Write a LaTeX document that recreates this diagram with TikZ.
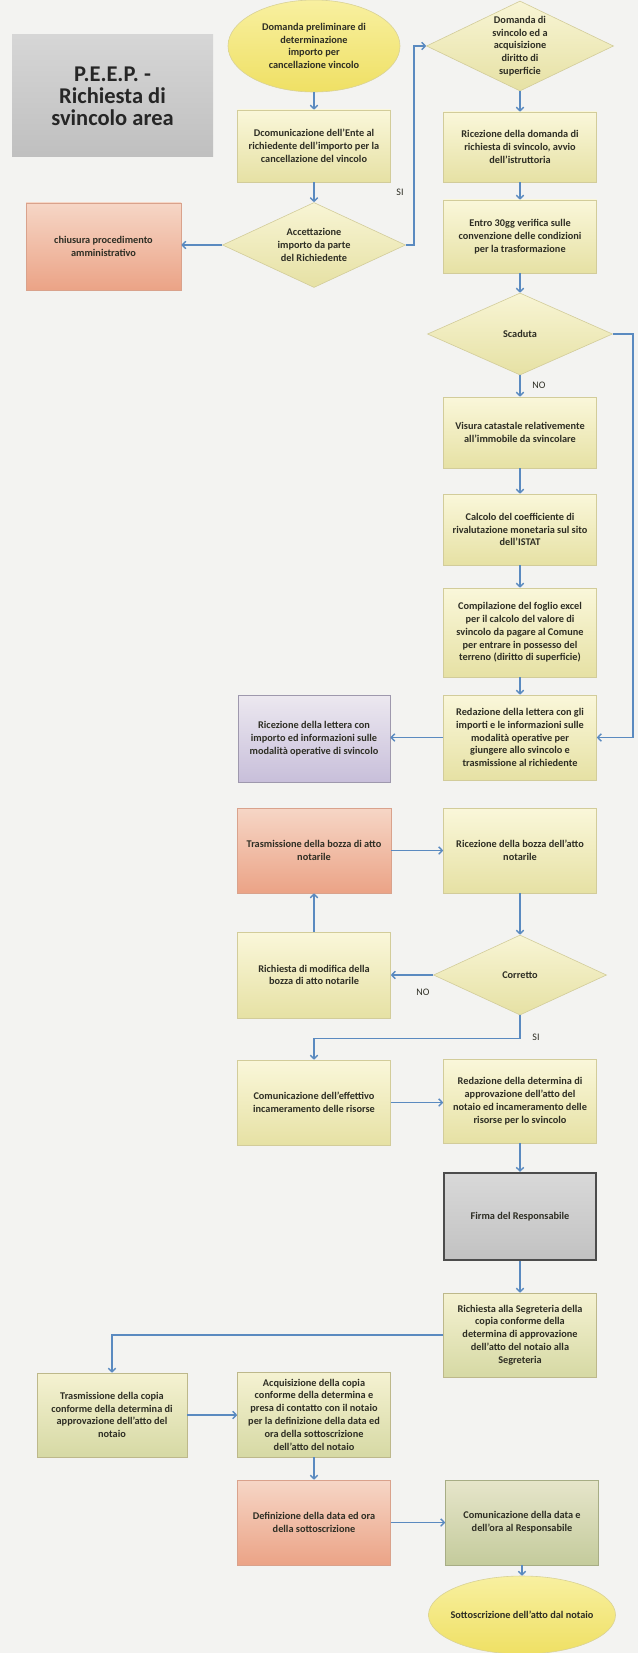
\documentclass[tikz,border=0pt]{standalone}
\usepackage{fontspec}
\setmainfont{Carlito}
\usepackage{tikz}
\usetikzlibrary{
  arrows.meta,
  calc,
  shapes.geometric
}
\definecolor{paper}{HTML}{F3F3F1}
\definecolor{conn}{HTML}{5A8AC0}
\definecolor{txtcol}{HTML}{2E2E24}
\definecolor{ylwtop}{HTML}{FAF7DA}
\definecolor{ylwbot}{HTML}{E6E1A4}
\definecolor{ylwline}{HTML}{D2CC9A}
\definecolor{grntop}{HTML}{F5F2D2}
\definecolor{grnbot}{HTML}{D6D9A4}
\definecolor{oliveTop}{HTML}{E6E5CA}
\definecolor{oliveBot}{HTML}{C4CB9C}
\definecolor{redtop}{HTML}{F6D6C6}
\definecolor{redbot}{HTML}{EBA386}
\definecolor{redline}{HTML}{D9A28C}
\definecolor{viotop}{HTML}{ECE8F0}
\definecolor{viobot}{HTML}{C8BFDA}
\definecolor{violine}{HTML}{9E98AD}
\definecolor{elltop}{HTML}{F8F0A0}
\definecolor{ellbot}{HTML}{EFE064}
\tikzset{
  >={Straight Barb[length=3.5pt,width=7.5pt]},
  line cap=round,
  line join=round,
  boxsize/.style 2 args={minimum width=#1pt, minimum height=#2pt},
  txt/.style={font=\fontsize{10.3}{12.8}\selectfont\bfseries, text=txtcol, align=center},
  box/.style={txt, draw=ylwline, top color=ylwtop, bottom color=ylwbot, line width=0.6pt, inner sep=1pt},
  greenbox/.style={box, draw=ylwline!90!black, top color=grntop, bottom color=grnbot},
  olivebox/.style={box, draw=oliveBot!85!black, top color=oliveTop, bottom color=oliveBot},
  redbox/.style={box, draw=redline, top color=redtop, bottom color=redbot},
  violetbox/.style={box, draw=violine, top color=viotop, bottom color=viobot},
  firmbox/.style={box, draw=black!70, line width=2.4pt, top color=black!15, bottom color=black!24},
  titlebox/.style={align=center, top color=black!16, bottom color=black!25,
    font=\fontsize{22.5}{22}\selectfont\bfseries, text=black!85},
  decision/.style={txt, diamond, aspect=2, inner sep=0pt, draw=ylwline,
    top color=ylwtop!90!ylwbot, bottom color=ylwbot, line width=0.6pt},
  startstop/.style={txt, ellipse, inner sep=0pt, draw=ellbot!80!black!60,
    top color=elltop, bottom color=ellbot, line width=0.6pt},
  arrow/.style={->, conn, line width=1.4pt},
  lbl/.style={font=\fontsize{10}{11}\selectfont, text=txtcol}
}

\begin{document}
\begin{tikzpicture}[x=1pt, y=-1pt]
  \useasboundingbox (0,0) rectangle (638,1653);
  \fill[paper] (0,0) rectangle (638,1653);

  % title
  \node[titlebox, boxsize={201}{122}] (title) at (112.5,96)
    {P.E.E.P. -\\Richiesta di\\svincolo area};

  % middle column
  \node[startstop, boxsize={172}{92}] (e2) at (314,46)
    {Domanda preliminare di\\determinazione\\importo per\\cancellazione vincolo};
  \node[box, boxsize={153}{72}] (b3) at (314,146)
    {Dcomunicazione dell'Ente al\\richiedente dell'importo per la\\cancellazione del vincolo};
  \node[decision, boxsize={183}{85}] (d4) at (314,245)
    {Accettazione\\importo da parte\\del Richiedente};
  \node[redbox, boxsize={155}{87}] (b5) at (103.5,246.5)
    {chiusura procedimento\\amministrativo};

  % right column
  \node[decision, boxsize={187}{90}] (d6) at (520,46)
    {Domanda di\\svincolo ed a\\acquisizione\\diritto di\\superficie};
  \node[box, boxsize={153}{70}] (b7) at (520,147)
    {Ricezione della domanda di\\richiesta di svincolo, avvio\\dell'istruttoria};
  \node[box, boxsize={153}{73}] (b8) at (520,236.5)
    {Entro 30gg verifica sulle\\convenzione delle condizioni\\per la trasformazione};
  \node[decision, boxsize={185}{82}] (d9) at (520,334) {Scaduta};
  \node[box, boxsize={153}{71}] (b11) at (520,432.5)
    {Visura catastale relativemente\\all'immobile da svincolare};
  \node[box, boxsize={153}{71}] (b12) at (520,529.5)
    {Calcolo del coefficiente di\\rivalutazione monetaria sul sito\\dell'ISTAT};
  \node[box, boxsize={153}{89}] (b13) at (520,632.5)
    {Compilazione del foglio excel\\per il calcolo del valore di\\svincolo da pagare al Comune\\per entrare in possesso del\\terreno (diritto di superficie)};
  \node[box, boxsize={153}{85}] (b14) at (520,737.5)
    {Redazione della lettera con gli\\importi e le informazioni sulle\\modalità operative per\\giungere allo svincolo e\\trasmissione al richiedente};
  \node[violetbox, boxsize={152}{87}] (b15) at (314,738.5)
    {Ricezione della lettera con\\importo ed informazioni sulle\\modalità operative di svincolo};

  % bozza notarile
  \node[redbox, boxsize={154}{85}] (b16) at (314,850.5)
    {Trasmissione della bozza di atto\\notarile};
  \node[box, boxsize={153}{85}] (b17) at (520,850.5)
    {Ricezione della bozza dell'atto\\notarile};
  \node[decision, boxsize={173}{80}] (d18) at (520,975) {Corretto};
  \node[box, boxsize={153}{86}] (b19) at (314,975)
    {Richiesta di modifica della\\bozza di atto notarile};
  \node[box, boxsize={153}{85}] (b22) at (314,1102.5)
    {Comunicazione dell'effettivo\\incameramento delle risorse};
  \node[box, boxsize={153}{84}] (b23) at (520,1101)
    {Redazione della determina di\\approvazione dell'atto del\\notaio ed incameramento delle\\risorse per lo svincolo};
  \node[firmbox, boxsize={152}{87}] (b24) at (520,1216.5) {Firma del Responsabile};
  \node[greenbox, boxsize={153}{84}] (b25) at (520,1335)
    {Richiesta alla Segreteria della\\copia conforme della\\determina di approvazione\\dell'atto del notaio alla\\Segreteria};

  % bottom rows
  \node[greenbox, boxsize={150}{84}] (b26) at (112,1415)
    {Trasmissione della copia\\conforme della determina di\\approvazione dell'atto del\\notaio};
  \node[greenbox, boxsize={153}{85}] (b27) at (314,1414.5)
    {Acquisizione della copia\\conforme della determina e\\presa di contatto con il notaio\\per la definizione della data ed\\ora della sottoscrizione\\dell'atto del notaio};
  \node[redbox, boxsize={153}{85}] (b28) at (314,1522.5)
    {Definizione della data ed ora\\della sottoscrizione};
  \node[olivebox, boxsize={153}{85}] (b29) at (522,1522.5)
    {Comunicazione della data e\\dell'ora al Responsabile};
  \node[startstop, boxsize={187}{78}, inner xsep=-12pt] (e30) at (522,1615)
    {Sottoscrizione dell'atto dal notaio};

  % connectors
  \draw[arrow] (e2) -- (b3);
  \draw[arrow] (b3) -- (d4);
  \draw[arrow] (d4.west) -- (d4.west -| b5.east);
  \draw[arrow] (d4.east) -- ++(8,0) |- (d6.west);
  \draw[arrow] (d6) -- (b7);
  \draw[arrow] (b7) -- (b8);
  \draw[arrow] (b8) -- (d9);
  \draw[arrow] (d9) -- (b11);
  \draw[arrow] (d9.east) -- ++(20,0) |- (b14.east);
  \draw[arrow] (b11) -- (b12);
  \draw[arrow] (b12) -- (b13);
  \draw[arrow] (b13) -- (b14);
  \draw[arrow] (b14.west) -- (b14.west -| b15.east);
  \draw[arrow] (b16) -- (b17);
  \draw[arrow] (b17) -- (d18);
  \draw[arrow] (d18.west) -- (d18.west -| b19.east);
  \draw[arrow] (b19) -- (b16);
  \draw[arrow] (d18.south) -- ++(0,23) -| (b22.north);
  \draw[arrow] (b22.east) -- (b22.east -| b23.west);
  \draw[arrow] (b23) -- (b24);
  \draw[arrow] (b24) -- (b25);
  \draw[arrow] (b25.west) -| (b26.north);
  \draw[arrow] (b26.east) -- (b26.east -| b27.west);
  \draw[arrow] (b27) -- (b28);
  \draw[arrow] (b28) -- (b29);
  \draw[arrow] (b29) -- (e30);

  \node[lbl] (si1) at (400,192) {SI};
  \node[lbl] (no1) at (539,385) {NO};
  \node[lbl] (no2) at (423,992) {NO};
  \node[lbl] (si2) at (536,1037) {SI};
\end{tikzpicture}
\end{document}
